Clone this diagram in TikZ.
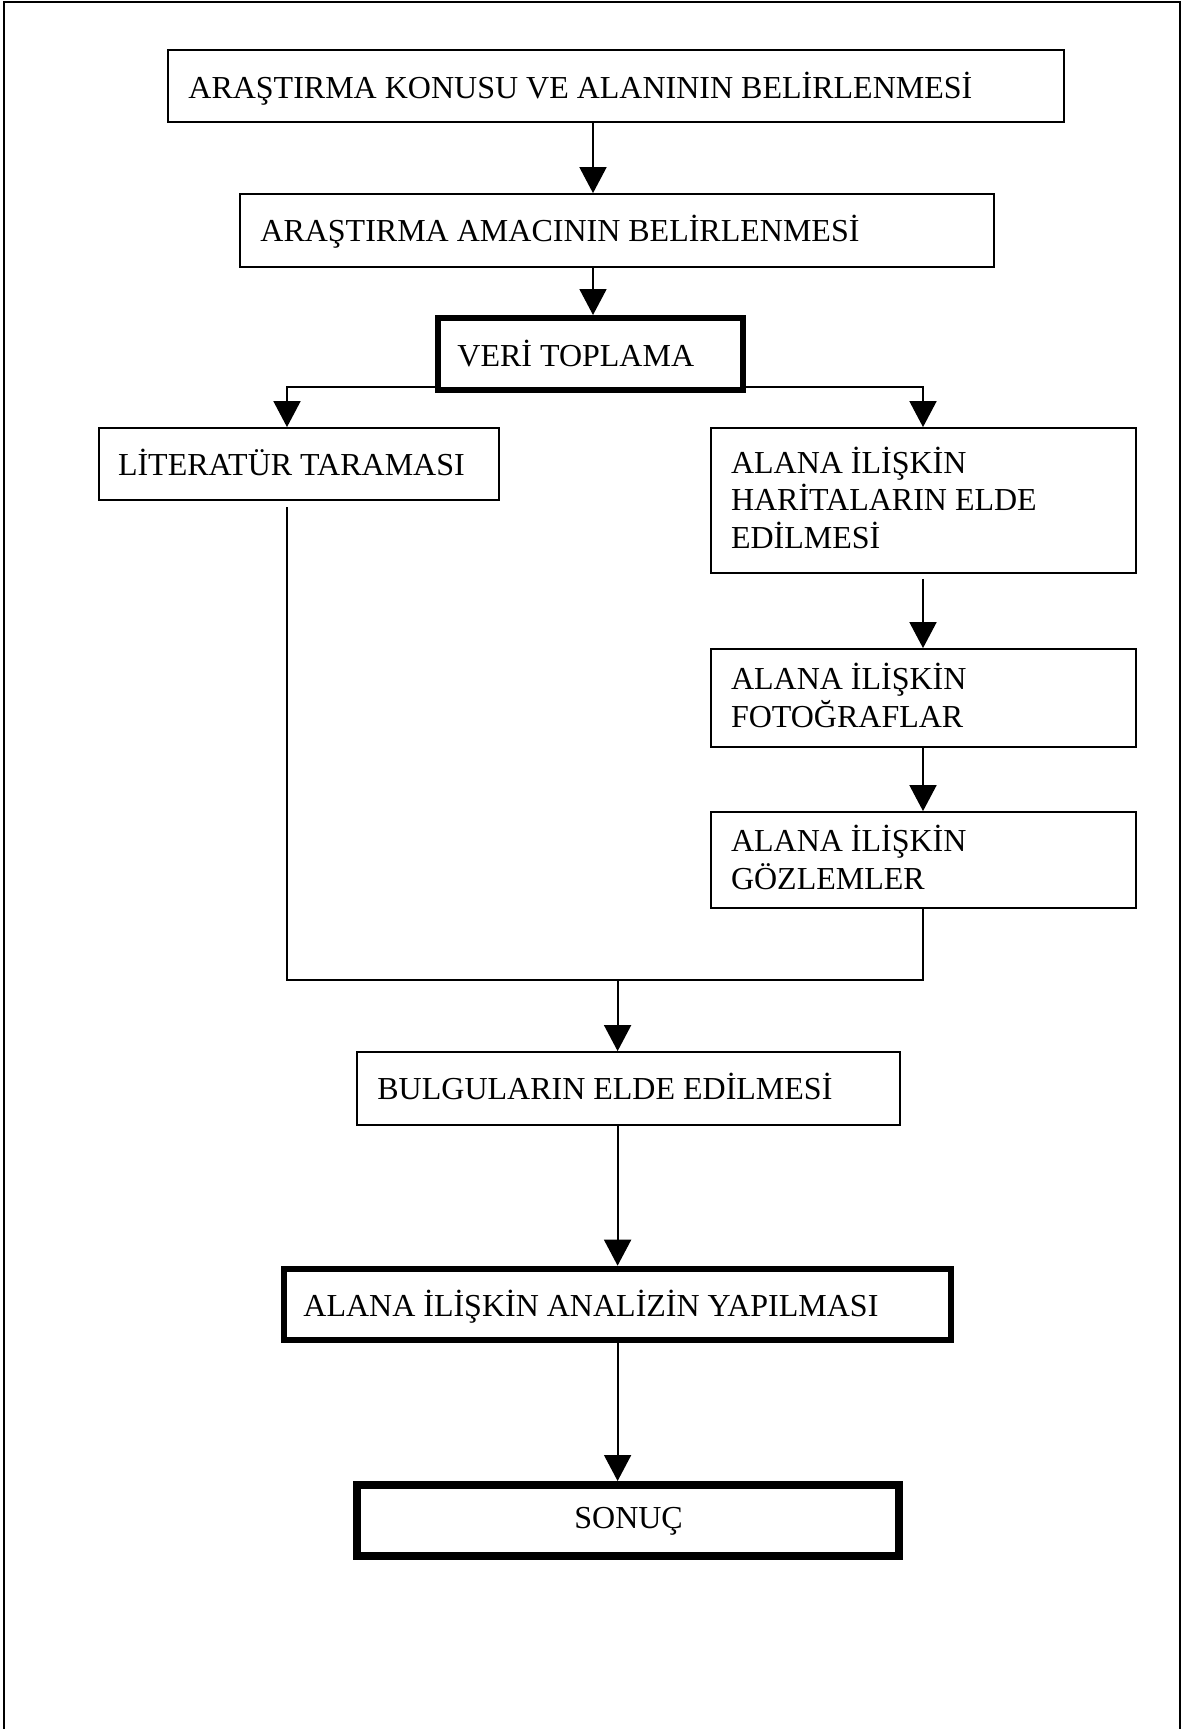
\documentclass[tikz,border=0pt]{standalone}
\usepackage{fontspec}
\setmainfont{Liberation Serif}
\usetikzlibrary{arrows.meta}
\begin{document}
\begin{tikzpicture}[x=0.5pt,y=-0.5pt,
  box/.style={draw, rectangle, line width=0.9pt, inner sep=0pt},
  thickbox/.style={box, line width=3pt},
  heavybox/.style={box, line width=4pt},
  txt/.style={inner sep=0pt, anchor=base west, align=left, font=\fontsize{16}{18.75}\selectfont},
  conn/.style={draw, line width=0.9pt},
  arr/.style={conn, -{Triangle[length=13pt,width=13.5pt]}}
]
\useasboundingbox (0,0) rectangle (1188,1729);
% outer frame
\draw[line width=1pt] (4,1729) -- (4,1.5) -- (1180,1.5) -- (1180,1729);

% boxes
\node[box, minimum width=448pt, minimum height=36pt] (b1) at (616,86) {};
\node[box, minimum width=377pt, minimum height=36.5pt] (b2) at (617,230.5) {};
\node[thickbox, minimum width=152.5pt, minimum height=36pt] (veri) at (590.5,354) {};
\node[box, minimum width=200pt, minimum height=36pt] (lit) at (299,464) {};
\node[box, minimum width=212.5pt, minimum height=72.5pt] (har) at (923.5,500.5) {};
\node[box, minimum width=212.5pt, minimum height=49pt] (fot) at (923.5,698) {};
\node[box, minimum width=212.5pt, minimum height=48pt] (goz) at (923.5,860) {};
\node[box, minimum width=271.5pt, minimum height=36.5pt] (bul) at (628.5,1088.5) {};
\node[thickbox, minimum width=333.5pt, minimum height=35.7pt] (ana) at (617.4,1304.4) {};
\node[heavybox, minimum width=271pt, minimum height=35.5pt] (son) at (628,1520.5) {};

% texts (multi-line nodes are anchored at the baseline of their last line)
\node[txt] (t1) at (188,98) {ARAŞTIRMA KONUSU VE ALANININ BELİRLENMESİ};
\node[txt] (t2) at (260,241) {ARAŞTIRMA AMACININ BELİRLENMESİ};
\node[txt] (t3) at (457,366) {VERİ TOPLAMA};
\node[txt] (t4) at (117.6,475) {LİTERATÜR TARAMASI};
\node[txt] (t5) at (730.6,548) {ALANA İLİŞKİN\\HARİTALARIN ELDE\\EDİLMESİ};
\node[txt] (t6) at (730.6,727) {ALANA İLİŞKİN\\FOTOĞRAFLAR};
\node[txt] (t7) at (730.6,889) {ALANA İLİŞKİN\\GÖZLEMLER};
\node[txt] (t8) at (377,1099) {BULGULARIN ELDE EDİLMESİ};
\node[txt] (t9) at (303,1316) {ALANA İLİŞKİN ANALİZİN YAPILMASI};
\node[txt, anchor=base] (t10) at (628.6,1528) {SONUÇ};

% helper coordinates
\coordinate (ax1) at (593,0);
\coordinate (ax2) at (617.6,0);
\coordinate (bl) at (287,387);
\coordinate (br) at (923,387);
\coordinate (jl) at (287,980);
\coordinate (jr) at (923,980);

% connectors
\draw[arr] (b1.south -| ax1) -- (b2.north -| ax1);
\draw[arr] (b2.south -| ax1) -- (veri.north -| ax1);
\draw[arr] (bl -| veri.west) -- (bl) -- (lit.north -| bl);
\draw[arr] (br -| veri.east) -- (br) -- (har.north -| br);
\draw[arr, shorten <=2.5pt] (har.south -| br) -- (fot.north -| br);
\draw[arr] (fot.south -| br) -- (goz.north -| br);
\draw[conn, shorten <=3.2pt] (lit.south -| jl) -- (jl) -- (jr) -- (goz.south -| jr);
\draw[arr] (jl -| ax2) -- (bul.north -| ax2);
\draw[arr] (bul.south -| ax2) -- (ana.north -| ax2);
\draw[arr] (ana.south -| ax2) -- (son.north -| ax2);
\end{tikzpicture}
\end{document}
